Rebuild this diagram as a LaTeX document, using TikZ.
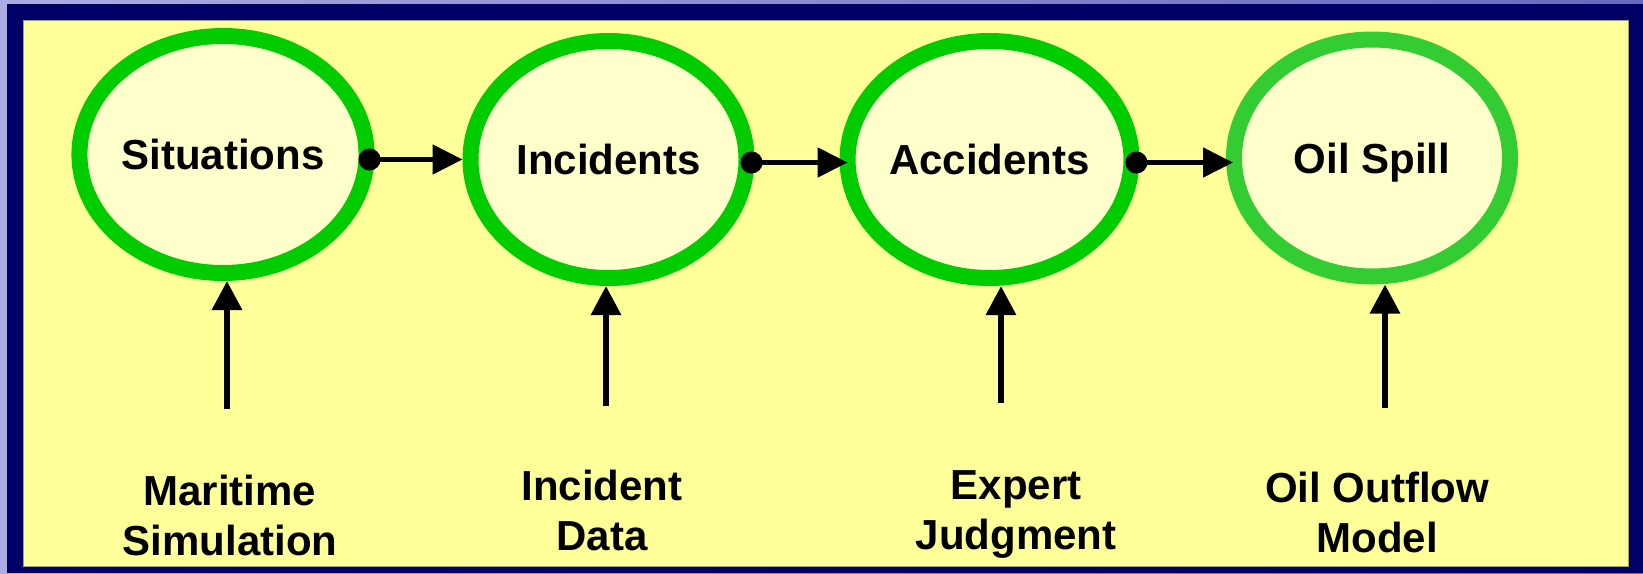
\documentclass[tikz,border=0pt]{standalone}
\usepackage{fontspec}
\setmainfont{Liberation Sans}
\usetikzlibrary{arrows.meta,shapes.geometric}
\definecolor{navyframe}{HTML}{000066}
\definecolor{paneyellow}{HTML}{FFFF99}
\definecolor{panedge}{RGB}{160,160,120}
\definecolor{creamfill}{HTML}{FFFFCC}
\definecolor{greenA}{HTML}{00CC00}
\definecolor{greenB}{HTML}{33CC33}
\definecolor{lavA}{RGB}{172,172,228}
\definecolor{lavB}{RGB}{104,104,192}
\begin{document}
\begin{tikzpicture}[x=0.5pt,y=-0.5pt,
  stage/.style={ellipse, minimum width=138pt, minimum height=118.5pt, inner sep=0pt,
    line width=8pt, draw=greenA, fill=creamfill, text depth=0pt,
    font=\fontsize{21}{25}\selectfont\bfseries},
  source/.style={anchor=north, align=center, inner sep=0pt,
    font=\fontsize{21}{25}\selectfont\bfseries},
  flow/.style={line width=2.5pt, {Circle[length=11pt,width=11pt]}-{Triangle[length=15pt,width=14.5pt]},
    shorten <=-7pt},
  feed/.style={line width=3pt, -{Triangle[length=14.5pt,width=14.5pt]}}
]
\useasboundingbox (0,0) rectangle (1643,573);
\shade[left color=lavA, right color=lavB] (0,0) rectangle (1643,573);
\fill[navyframe] (7,4) rectangle (1643,573);
\filldraw[fill=paneyellow, draw=panedge, line width=0.5pt] (23,20) rectangle (1628,566);

\node[stage] (e1) at (223,154.5) {Situations};
\node[stage] (e2) at (608.5,159.5) {Incidents};
\node[stage] (e3) at (989.5,159.5) {Accidents};
\node[stage, draw=greenB] (e4) at (1372,158) {Oil Spill};

\draw[flow, shorten <=-8pt] (e1.east |- e2.west) -- (e2.west);
\draw[flow, shorten >=-4pt] ([yshift=-1.5pt]e2.east) -- ([yshift=-1.5pt]e3.west);
\draw[flow, shorten >=-3.5pt] ([yshift=-1.5pt]e3.east) -- ([yshift=-2.25pt]e4.west);

\coordinate (c1) at (227,409);
\coordinate (c2) at (606,406);
\coordinate (c3) at (1001,403);
\coordinate (c4) at (1385,408);
\draw[feed] (c1) -- (c1 |- e1.south);
\draw[feed] (c2) -- (c2 |- e2.south);
\draw[feed] (c3) -- (c3 |- e3.south);
\draw[feed] (c4) -- (c4 |- e4.south);

\node[source] (l1) at (230,475) {Maritime\\Simulation};
\node[source] (l2) at (602,470) {Incident\\Data};
\node[source] (l3) at (1016,470) {Expert\\Judgment};
\node[source] (l4) at (1377,472) {Oil Outflow\\Model};
\end{tikzpicture}
\end{document}
